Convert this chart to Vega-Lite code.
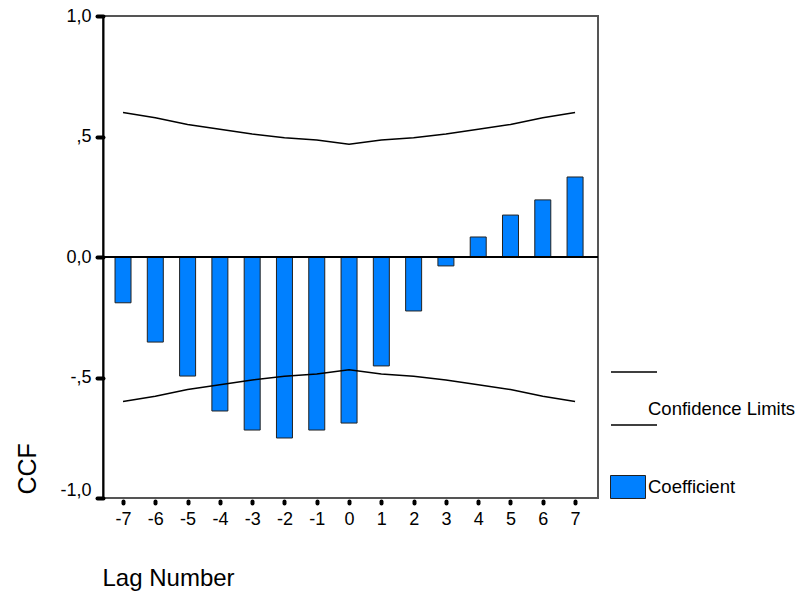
{
  "$schema": "https://vega.github.io/schema/vega-lite/v6.json",
  "autosize": "none",
  "width": 495,
  "height": 482,
  "padding": {"left": 103, "top": 16, "right": 200, "bottom": 96},
  "background": "white",
  "config": {
    "font": "Liberation Sans",
    "view": {"stroke": "#555555", "strokeWidth": 2},
    "axis": {"grid": false, "labelColor": "black", "titleColor": "black", "labelFont": "Liberation Sans", "titleFont": "Liberation Sans", "titleFontWeight": "normal"},
    "legend": {"labelFont": "Liberation Sans", "labelColor": "black"}
  },
  "data": {
    "values": [
      {"lag": -7, "ccf": -0.19, "upper": 0.600, "lower": -0.600},
      {"lag": -6, "ccf": -0.353, "upper": 0.578, "lower": -0.578},
      {"lag": -5, "ccf": -0.494, "upper": 0.550, "lower": -0.550},
      {"lag": -4, "ccf": -0.639, "upper": 0.530, "lower": -0.530},
      {"lag": -3, "ccf": -0.718, "upper": 0.510, "lower": -0.510},
      {"lag": -2, "ccf": -0.751, "upper": 0.495, "lower": -0.495},
      {"lag": -1, "ccf": -0.718, "upper": 0.485, "lower": -0.485},
      {"lag": 0, "ccf": -0.689, "upper": 0.468, "lower": -0.468},
      {"lag": 1, "ccf": -0.452, "upper": 0.485, "lower": -0.485},
      {"lag": 2, "ccf": -0.224, "upper": 0.495, "lower": -0.495},
      {"lag": 3, "ccf": -0.037, "upper": 0.510, "lower": -0.510},
      {"lag": 4, "ccf": 0.083, "upper": 0.530, "lower": -0.530},
      {"lag": 5, "ccf": 0.174, "upper": 0.550, "lower": -0.550},
      {"lag": 6, "ccf": 0.237, "upper": 0.578, "lower": -0.578},
      {"lag": 7, "ccf": 0.332, "upper": 0.600, "lower": -0.600}
    ]
  },
  "encoding": {
    "x": {
      "field": "lag", "type": "quantitative",
      "scale": {"domain": [-7.62, 7.71], "nice": false, "zero": false, "padding": 0},
      "axis": {
        "values": [-7,-6,-5,-4,-3,-2,-1,0,1,2,3,4,5,6,7],
        "labelExpr": "'' + datum.value",
        "domain": false,
        "offset": 3,
        "tickSize": 2, "tickWidth": 4, "tickCap": "round", "tickColor": "black",
        "labelFontSize": 18, "labelPadding": 7,
        "title": "Lag Number", "titleFontSize": 24,
        "titleAnchor": "start", "titleAlign": "left", "titleBaseline": "middle",
        "titleX": -1, "titleY": 77
      }
    }
  },
  "layer": [
    {
      "mark": {"type": "bar", "size": 16, "stroke": "#222222", "strokeWidth": 1},
      "encoding": {
        "y": {
          "field": "ccf", "type": "quantitative",
          "scale": {"domain": [-1, 1], "nice": false, "padding": 0},
          "axis": {
            "values": [-1, -0.5, 0, 0.5, 1],
            "labelExpr": "datum.value == 1 ? '1,0' : datum.value == 0.5 ? ',5' : datum.value == 0 ? '0,0' : datum.value == -0.5 ? '-,5' : '-1,0'",
            "domainColor": "black", "domainWidth": 2,
            "tickSize": 6, "tickWidth": 4, "tickCap": "round", "tickColor": "black",
            "labelFontSize": 18, "labelPadding": 6,
            "labelOffset": {"condition": {"test": "datum.value == -1", "value": -8}, "value": 0},
            "title": "CCF", "titleFontSize": 25,
            "titleAngle": -90, "titleAlign": "left", "titleBaseline": "middle",
            "titleX": -76, "titleY": 478
          }
        },
        "y2": {"datum": 0},
        "fill": {
          "datum": "Coefficient",
          "scale": {"range": ["#0080ff"]},
          "legend": {
            "orient": "none", "legendX": 507, "legendY": 453,
            "title": null, "padding": 0,
            "symbolType": "M-1,-0.657H1V0.657H-1Z",
            "symbolSize": 1225,
            "symbolStrokeColor": "#222222", "symbolStrokeWidth": 1,
            "labelFontSize": 18.5, "labelOffset": 2
          }
        }
      }
    },
    {
      "mark": {"type": "rule", "color": "black", "strokeWidth": 1.5},
      "encoding": {"y": {"datum": 0}, "x": null}
    },
    {
      "mark": {"type": "line", "strokeWidth": 1.5},
      "encoding": {
        "y": {"field": "upper", "type": "quantitative"},
        "stroke": {
          "datum": "Confidence Limits",
          "scale": {"range": ["black"]},
          "legend": {
            "orient": "none", "legendX": 507, "legendY": 369,
            "title": null, "padding": 0,
            "symbolType": "M-1,-1.61H1M-1,0.7H1",
            "symbolSize": 2116,
            "symbolStrokeWidth": 1.5,
            "labelFontSize": 18.5, "labelOffset": -10
          }
        }
      }
    },
    {
      "mark": {"type": "line", "strokeWidth": 1.5},
      "encoding": {
        "y": {"field": "lower", "type": "quantitative"},
        "stroke": {"datum": "Confidence Limits"}
      }
    }
  ]
}
